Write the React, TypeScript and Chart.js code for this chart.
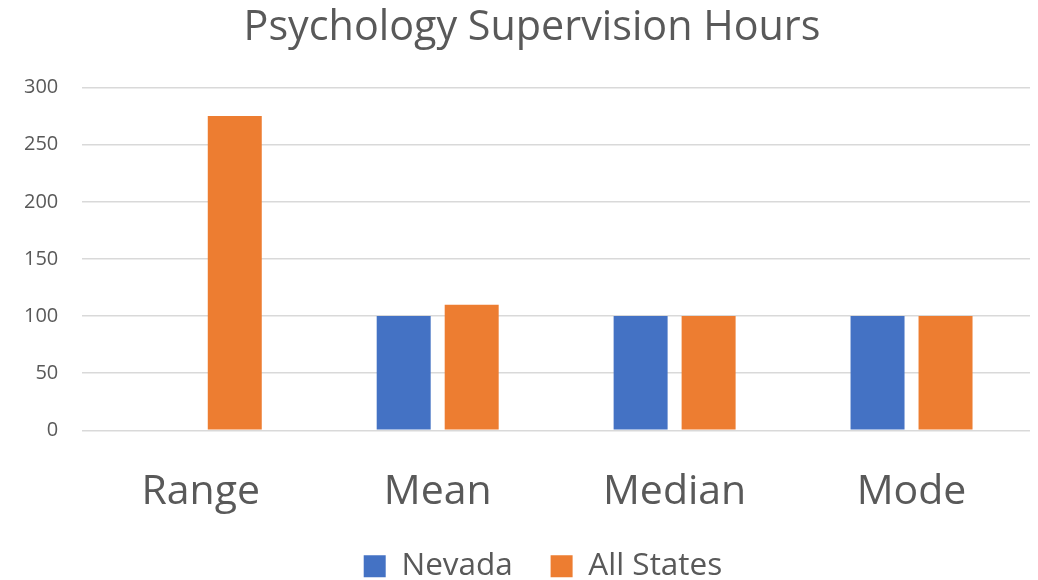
import React, { useEffect, useRef } from "react";
import { Chart, registerables } from "chart.js";

Chart.register(...registerables);

const categories = ["Range", "Mean", "Median", "Mode"];
const nevada = [null, 100, 100, 100];
const allStates = [275, 110, 100, 100];
const yTicks = [0, 50, 100, 150, 200, 250, 300];

const FONT = "'Open Sans', 'Noto Sans', sans-serif";

const blockShift = {
  id: "blockShift",
  afterLayout(chart: any) {
    if (chart.legend) {
      chart.legend.left += 28;
      chart.legend.right += 28;
    }
    if (chart.titleBlock) {
      chart.titleBlock.left += 17;
      chart.titleBlock.right += 17;
    }
  },
};

export default function App() {
  const ref = useRef<HTMLCanvasElement | null>(null);
  useEffect(() => {
    document.body.style.margin = "0";
    const ctx = ref.current!.getContext("2d")!;
    const chart = new Chart(ctx, {
      type: "bar",
      data: {
        labels: categories,
        datasets: [
          {
            label: "Nevada",
            data: nevada as any,
            backgroundColor: "#4472C4",
            categoryPercentage: 0.574,
            barPercentage: 0.794,
          },
          {
            label: "All States",
            data: allStates,
            backgroundColor: "#ED7D31",
            categoryPercentage: 0.574,
            barPercentage: 0.794,
          },
        ],
      },
      plugins: [blockShift],
      options: {
        responsive: false,
        animation: false,
        layout: { padding: { left: 0, right: 8, top: 0, bottom: -12 } },
        plugins: {
          title: {
            display: true,
            text: "Psychology Supervision Hours",
            color: "#595959",
            font: { family: FONT, size: 41.3, weight: "normal" },
            padding: { top: 3, bottom: 35 },
          },
          legend: {
            position: "bottom",
            labels: {
              color: "#595959",
              font: { family: FONT, size: 31.5 },
              boxWidth: 22,
              boxHeight: 22,
              padding: 5,
              generateLabels: (c: any) => {
                const items = Chart.defaults.plugins.legend.labels.generateLabels(c);
                return items.map((it: any, i: number) =>
                  i < items.length - 1 ? { ...it, text: it.text + "    " } : it
                );
              },
            },
          },
          tooltip: { enabled: false },
        },
        scales: {
          x: {
            grid: { display: false },
            border: { display: false },
            ticks: {
              color: "#595959",
              font: { family: FONT, size: 41 },
              padding: 29,
            },
          },
          y: {
            min: 0,
            max: 300,
            afterBuildTicks: (axis: any) => {
              axis.ticks = yTicks.map((v) => ({ value: v }));
            },
            grid: { color: "#D9D9D9", lineWidth: 1.5, drawTicks: false },
            border: { display: false },
            ticks: {
              color: "#595959",
              font: { family: FONT, size: 20 },
              padding: 24,
            },
          },
        },
      },
    });
    return () => chart.destroy();
  }, []);
  return <canvas ref={ref} width={1038} height={580} style={{ display: "block" }} />;
}
